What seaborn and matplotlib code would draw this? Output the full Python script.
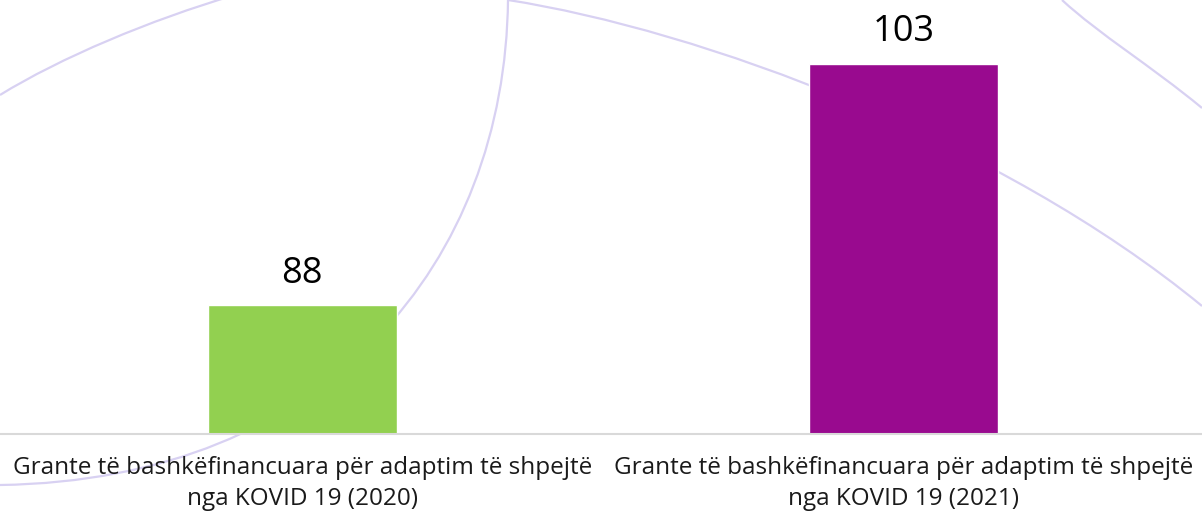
import matplotlib
matplotlib.use("Agg")
import matplotlib.pyplot as plt
from matplotlib.path import Path
from matplotlib.patches import PathPatch
import seaborn as sns
import pandas as pd

categories = [
    "Grante të bashkëfinancuara për adaptim të shpejtë\nnga KOVID 19 (2020)",
    "Grante të bashkëfinancuara për adaptim të shpejtë\nnga KOVID 19 (2021)",
]
values = [88, 103]
colors = ["#92D050", "#990A8F"]

df = pd.DataFrame({"category": categories, "value": values})

sns.set_style("white")
plt.rcParams["font.family"] = ["Open Sans", "DejaVu Sans"]

fig = plt.figure(figsize=(12.02, 5.2), dpi=100)

# faint decorative curves in the background (pixel space, y down)
deco = fig.add_axes([0, 0, 1, 1], zorder=0)
deco.set_xlim(0, 1202)
deco.set_ylim(520, 0)
deco.axis("off")
C = Path.CURVE4
curves = [
    [(0, 95), (60, 58), (150, 20), (235, -5)],
    [(508, 0), (505, 260), (330, 480), (0, 485)],
    [(508, 0), (700, 30), (1000, 140), (1202, 306)],
    [(1062, 0), (1100, 35), (1150, 65), (1202, 108)],
]
for pts in curves:
    path = Path(pts, [Path.MOVETO, C, C, C])
    deco.add_patch(PathPatch(path, fill=False, edgecolor="#D8D1F2", lw=1.6))

ax = fig.add_axes([0, 86 / 520, 1, 434 / 520], zorder=1)
ax.patch.set_alpha(0)
sns.barplot(data=df, x="category", y="value", hue="category",
            palette=colors, width=0.314, legend=False, ax=ax, saturation=1)
ax.set_ylim(80, 107)
ax.set_xlim(-0.503, 1.497)
for cont in ax.containers:
    ax.bar_label(cont, fontsize=26, padding=10, color="black")

for s in ["top", "left", "right"]:
    ax.spines[s].set_visible(False)
ax.spines["bottom"].set_color("#D9D9D9")
ax.spines["bottom"].set_linewidth(1.5)
ax.set_yticks([])
ax.tick_params(axis="x", length=0, pad=16, labelsize=17.5, labelcolor="#1a1a1a")
for lbl in ax.get_xticklabels():
    lbl.set_linespacing(1.4)
ax.set_xlabel("")
ax.set_ylabel("")

fig.savefig("out.png", dpi=100)
